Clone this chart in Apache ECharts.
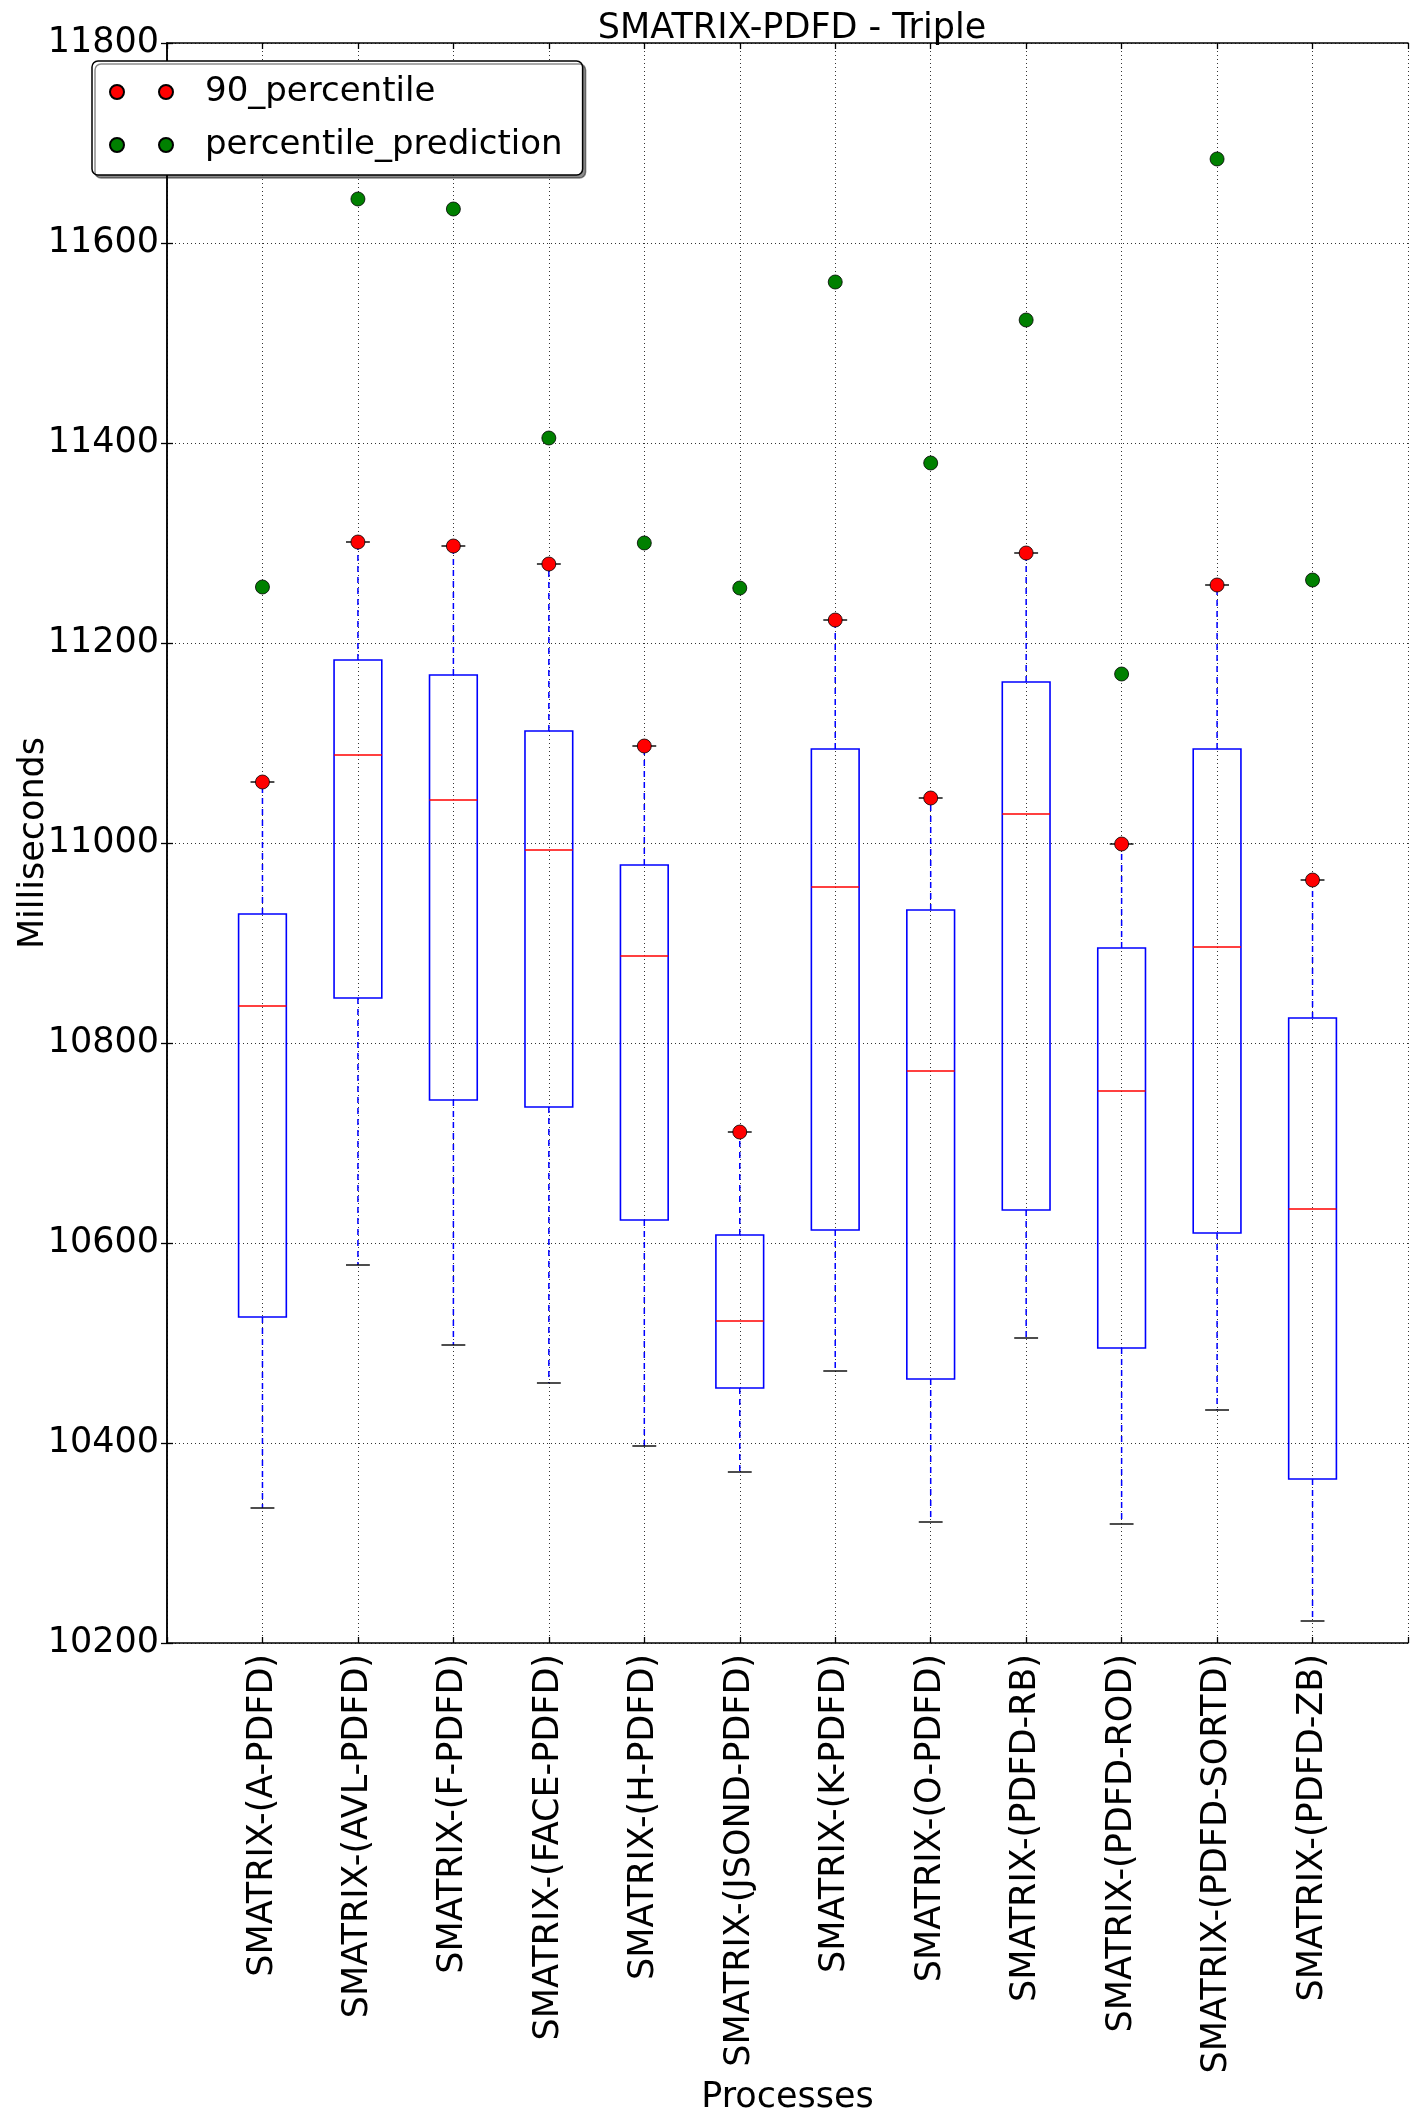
<!DOCTYPE html>
<html>
<head>
<meta charset="utf-8">
<script src="https://cdn.jsdelivr.net/npm/echarts@6/dist/echarts.min.js"></script>
<style>
html,body{margin:0;padding:0;background:#fff;}
#chart{width:1417px;height:2122px;}
</style>
</head>
<body>
<div id="chart"></div>
<script>
const categories = ['SMATRIX-(A-PDFD)','SMATRIX-(AVL-PDFD)','SMATRIX-(F-PDFD)','SMATRIX-(FACE-PDFD)','SMATRIX-(H-PDFD)','SMATRIX-(JSOND-PDFD)','SMATRIX-(K-PDFD)','SMATRIX-(O-PDFD)','SMATRIX-(PDFD-RB)','SMATRIX-(PDFD-ROD)','SMATRIX-(PDFD-SORTD)','SMATRIX-(PDFD-ZB)'];
const whiskerLow = [10335,10578,10498,10460,10397,10371,10472,10321,10505,10319,10433,10222];
const q1 = [10526,10845,10743,10736,10623,10455,10613,10464,10633,10495,10610,10364];
const median = [10837,11088,11043,10993,10887,10522,10956,10772,11029,10752,10896,10634];
const q3 = [10929,11183,11168,11112,10978,10608,11094,10933,11161,10895,11094,10825];
const p90 = [11061,11301,11297,11279,11097,10711,11223,11045,11290,10999,11258,10963];
const prediction = [11256,11644,11634,11405,11300,11255,11561,11380,11523,11169,11684,11263];
const yMin = 10200, yMax = 11800, yStep = 200;

const FONT = 'DejaVu Sans';
const boxData = categories.map((c, i) => [i + 1, whiskerLow[i], q1[i], median[i], q3[i], p90[i]]);
const p90Data = categories.map((c, i) => [i + 1, p90[i]]);
const predData = categories.map((c, i) => [i + 1, prediction[i]]);

function renderBox(params, api) {
  const x = api.value(0);
  const pLow = api.coord([x, api.value(1)]);
  const pQ1 = api.coord([x, api.value(2)]);
  const pMed = api.coord([x, api.value(3)]);
  const pQ3 = api.coord([x, api.value(4)]);
  const pHigh = api.coord([x, api.value(5)]);
  const bw = api.size([0.5, 0])[0];
  const cw = api.size([0.25, 0])[0];
  const cx = pQ1[0];
  const blue = '#0000ff';
  return {
    type: 'group',
    children: [
      {type: 'line', shape: {x1: cx, y1: pQ3[1], x2: cx, y2: pHigh[1]}, style: {stroke: blue, lineWidth: 1.5, lineDash: [6, 5]}},
      {type: 'line', shape: {x1: cx, y1: pQ1[1], x2: cx, y2: pLow[1]}, style: {stroke: blue, lineWidth: 1.5, lineDash: [6, 5]}},
      {type: 'line', shape: {x1: cx - cw / 2, y1: pHigh[1], x2: cx + cw / 2, y2: pHigh[1]}, style: {stroke: '#000', lineWidth: 1.4}},
      {type: 'line', shape: {x1: cx - cw / 2, y1: pLow[1], x2: cx + cw / 2, y2: pLow[1]}, style: {stroke: '#000', lineWidth: 1.4}},
      {type: 'rect', shape: {x: cx - bw / 2, y: pQ3[1], width: bw, height: pQ1[1] - pQ3[1]}, style: {fill: 'none', stroke: blue, lineWidth: 1.6}},
      {type: 'line', shape: {x1: cx - bw / 2, y1: pMed[1], x2: cx + bw / 2, y2: pMed[1]}, style: {stroke: '#ff0000', lineWidth: 1.4}}
    ]
  };
}

const gridLine = {show: true, lineStyle: {color: '#000', width: 0.8, type: [1, 3]}};
const frameLine = {show: true, lineStyle: {color: '#000', width: 1.5}};

const chart = echarts.init(document.getElementById('chart'), null, {renderer: 'canvas'});
chart.setOption({
  animation: false,
  backgroundColor: '#fff',
  textStyle: {fontFamily: FONT},
  title: {
    text: 'SMATRIX-PDFD - Triple',
    left: 787, textAlign: 'center', top: 6,
    textStyle: {fontFamily: FONT, fontSize: 35, fontWeight: 'normal', color: '#000'}
  },
  legend: {
    data: ['90_percentile', 'percentile_prediction'],
    orient: 'vertical',
    left: 92, top: 61,
    padding: [11, 20, 10, 17],
    itemGap: 13,
    itemWidth: 63, itemHeight: 14,
    icon: 'path://M0,7a7,7 0 1,0 14,0a7,7 0 1,0 -14,0zM49,7a7,7 0 1,0 14,0a7,7 0 1,0 -14,0z',
    backgroundColor: '#fff',
    borderColor: '#000', borderWidth: 1.5, borderRadius: 6,
    shadowColor: 'rgba(0,0,0,0.45)', shadowOffsetX: 3, shadowOffsetY: 3, shadowBlur: 0,
    textStyle: {fontFamily: FONT, fontSize: 34, color: '#000', lineHeight: 40, padding: [0, 0, 0, 27]}
  },
  grid: {left: 167, right: 9, top: 43, bottom: 479, containLabel: false, outerBoundsMode: 'none'},
  xAxis: [
    {
      type: 'value', min: 0, max: 13, interval: 1,
      name: 'Processes', nameLocation: 'middle', nameGap: 437, nameMoveOverlap: false,
      nameTextStyle: {fontFamily: FONT, fontSize: 35, color: '#000'},
      axisLine: frameLine,
      axisTick: {show: true, inside: true, length: 6, lineStyle: {color: '#000', width: 1.3}},
      axisLabel: {
        show: true, rotate: 90, margin: 11, fontFamily: FONT, fontSize: 35, color: '#000',
        showMinLabel: true, showMaxLabel: true,
        formatter: v => (v >= 1 && v <= categories.length) ? categories[v - 1] : ''
      },
      splitLine: gridLine
    },
    {
      type: 'value', min: 0, max: 13, interval: 1, position: 'top',
      axisLine: frameLine,
      axisTick: {show: true, inside: true, length: 6, lineStyle: {color: '#000', width: 1.3}},
      axisLabel: {show: false}, splitLine: {show: false}
    }
  ],
  yAxis: [
    {
      type: 'value', min: yMin, max: yMax, interval: yStep,
      name: 'Milliseconds', nameLocation: 'middle', nameGap: 116, nameMoveOverlap: false,
      nameTextStyle: {fontFamily: FONT, fontSize: 35, color: '#000'},
      axisLine: frameLine,
      axisTick: {show: true, inside: true, length: 6, lineStyle: {color: '#000', width: 1.3}},
      axisLabel: {show: true, margin: 8, fontFamily: FONT, fontSize: 35, color: '#000', formatter: v => String(v)},
      splitLine: gridLine
    },
    {
      type: 'value', min: yMin, max: yMax, interval: yStep, position: 'right',
      axisLine: frameLine,
      axisTick: {show: true, inside: true, length: 6, lineStyle: {color: '#000', width: 1.3}},
      axisLabel: {show: false}, splitLine: {show: false}
    }
  ],
  series: [
    {
      name: 'box', type: 'custom', xAxisIndex: 0, yAxisIndex: 0,
      renderItem: renderBox, data: boxData,
      encode: {x: 0, y: [1, 2, 3, 4, 5]}, z: 2
    },
    {
      name: '90_percentile', type: 'scatter', xAxisIndex: 0, yAxisIndex: 0,
      data: p90Data, symbol: 'circle', symbolSize: 14, z: 3,
      itemStyle: {color: '#ff0000', borderColor: '#000', borderWidth: 0.8, opacity: 1}
    },
    {
      name: 'percentile_prediction', type: 'scatter', xAxisIndex: 0, yAxisIndex: 0,
      data: predData, symbol: 'circle', symbolSize: 14, z: 3,
      itemStyle: {color: '#008000', borderColor: '#000', borderWidth: 0.8, opacity: 1}
    }
  ]
});
</script>
</body>
</html>
